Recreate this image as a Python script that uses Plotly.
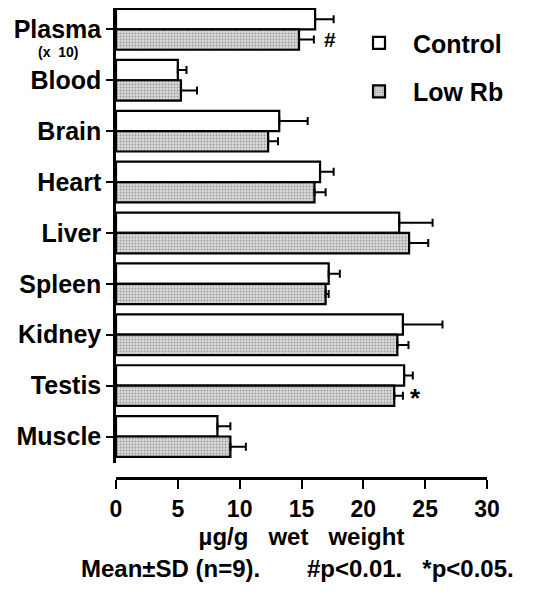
import plotly.graph_objects as go

organs = ['Plasma', 'Blood', 'Brain', 'Heart', 'Liver', 'Spleen', 'Kidney', 'Testis', 'Muscle']

control = [16.1, 5.0, 13.2, 16.5, 22.9, 17.2, 23.2, 23.3, 8.2]
control_sd = [1.5, 0.7, 2.3, 1.1, 2.7, 0.9, 3.2, 0.7, 1.05]
lowrb = [14.8, 5.25, 12.3, 16.05, 23.7, 16.95, 22.75, 22.5, 9.25]
lowrb_sd = [1.2, 1.3, 0.8, 0.9, 1.55, 0.25, 0.9, 0.7, 1.25]

x_ticks = [0, 5, 10, 15, 20, 25, 30]

FONT = 'Liberation Sans, Arial, Helvetica, sans-serif'
NB = '&nbsp;'

fig = go.Figure()
fig.add_trace(go.Bar(
    y=organs, x=control, orientation='h', name=NB * 2 + 'Control', legendgroup='c',
    marker=dict(color='white', line=dict(color='black', width=2.2)),
    error_x=dict(type='data', array=control_sd, arrayminus=[0] * len(organs), symmetric=False,
                 color='black', thickness=2, width=4),
))
fig.add_trace(go.Bar(
    y=organs, x=lowrb, orientation='h', name=NB * 2 + 'Low Rb', legendgroup='l',
    marker=dict(color='#dadada', line=dict(color='black', width=2.2),
                pattern=dict(shape='.', fillmode='overlay', fgcolor='#555555', size=3, solidity=0.3)),
    error_x=dict(type='data', array=lowrb_sd, arrayminus=[0] * len(organs), symmetric=False,
                 color='black', thickness=2, width=4),
))

# plasma scale note under the tick label
fig.add_annotation(xref='paper', x=-0.097, y=organs[0], yshift=-23, xanchor='right',
                   text='(x' + NB * 2 + '10)', showarrow=False,
                   font=dict(family=FONT, size=14, color='black', weight='bold'))

# significance marks
fig.add_annotation(x=lowrb[0] + lowrb_sd[0] + 1.3, y=organs[0], yshift=-10, text='#',
                   showarrow=False, font=dict(family=FONT, size=21, color='black', weight='bold'))
fig.add_annotation(x=lowrb[7] + lowrb_sd[7] + 1.0, y=organs[7], yshift=-12, text='*',
                   showarrow=False, font=dict(family=FONT, size=26, color='black', weight='bold'))

fig.add_annotation(xref='paper', yref='paper', x=-0.1, y=-0.193, xanchor='left', yanchor='middle',
                   text='Mean\u00b1SD' + NB + '(n=9).' + NB * 7 + '#p<0.01.' + NB * 3 + '*p<0.05.',
                   showarrow=False, font=dict(family=FONT, size=24, color='black', weight='bold'))

fig.update_layout(
    width=538, height=597,
    margin=dict(l=108, r=59, t=0, b=127),
    paper_bgcolor='white', plot_bgcolor='white',
    barmode='group', bargap=0.2, bargroupgap=0,
    font=dict(family=FONT, color='black'),
    legend=dict(x=0.655, y=0.974, xanchor='left', yanchor='top', tracegroupgap=13,
                traceorder='grouped', bgcolor='rgba(0,0,0,0)',
                font=dict(family=FONT, size=25, color='black', weight='bold')),
    yaxis=dict(
        domain=[0.032, 1], range=[8.52, -0.42],
        tickmode='array', tickvals=organs, ticktext=organs,
        showline=True, linecolor='black', linewidth=2.5,
        ticks='outside', ticklen=7, tickwidth=2, tickcolor='black',
        tickfont=dict(family=FONT, size=25, color='black', weight='bold'),
        showgrid=False, zeroline=False,
    ),
    xaxis=dict(
        anchor='free', position=0, range=[0, 30],
        tickmode='array', tickvals=x_ticks,
        showline=True, linecolor='black', linewidth=3,
        ticks='outside', ticklen=9, tickwidth=2, tickcolor='black',
        tickfont=dict(family=FONT, size=23, color='black', weight='bold'),
        title=dict(text='\u00b5g/g' + NB * 3 + 'wet' + NB * 3 + 'weight', standoff=7,
                   font=dict(family=FONT, size=24, color='black', weight='bold')),
        showgrid=False, zeroline=False,
    ),
)

fig.write_html('out.html')
